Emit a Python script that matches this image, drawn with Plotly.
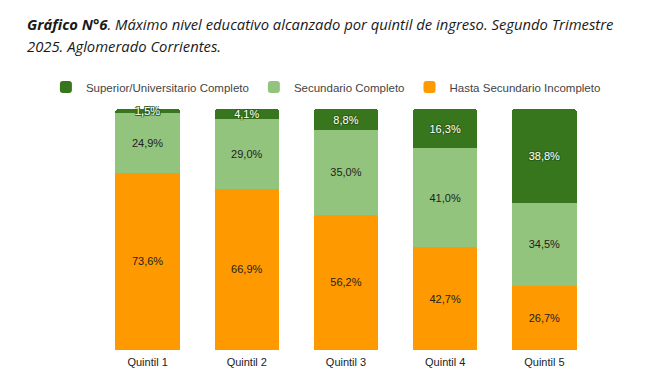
import plotly.graph_objects as go

categories = ["Quintil 1", "Quintil 2", "Quintil 3", "Quintil 4", "Quintil 5"]
hasta_sec_incompleto = [73.6, 66.9, 56.2, 42.7, 26.7]
secundario_completo = [24.9, 29.0, 35.0, 41.0, 34.5]
superior_completo = [1.5, 4.1, 8.8, 16.3, 38.8]

def fmt(v):
    return f"{v:.1f}".replace(".", ",") + "%"

outline = ("1px 1px 0 #2d5e17, -1px -1px 0 #2d5e17, 1px -1px 0 #2d5e17, "
           "-1px 1px 0 #2d5e17")

fig = go.Figure()
fig.add_trace(go.Bar(
    name="Hasta Secundario Incompleto", x=categories, y=hasta_sec_incompleto,
    marker_color="#ff9900", text=[fmt(v) for v in hasta_sec_incompleto],
    textposition="inside", insidetextanchor="middle", textangle=0,
    textfont=dict(color="#222222", size=11, family="Liberation Sans"),
))
fig.add_trace(go.Bar(
    name="Secundario Completo", x=categories, y=secundario_completo,
    marker_color="#93c47d", text=[fmt(v) for v in secundario_completo],
    textposition="inside", insidetextanchor="middle", textangle=0,
    textfont=dict(color="#222222", size=11, family="Liberation Sans"),
))
fig.add_trace(go.Bar(
    name="Superior/Universitario Completo", x=categories, y=superior_completo,
    marker_color="#38761d", text=[fmt(v) for v in superior_completo],
    textposition="inside", insidetextanchor="middle", constraintext="none", textangle=0,
    textfont=dict(color="#ffffff", size=11, family="Liberation Sans", shadow=outline),
))

fig.update_traces(marker_line_width=0, cliponaxis=False)

fig.update_layout(
    width=651, height=380,
    barmode="stack", bargap=0.35, barcornerradius=3,
    paper_bgcolor="white", plot_bgcolor="white",
    margin=dict(l=98, r=57, t=109, b=30, autoexpand=False),
    uniformtext=dict(minsize=11, mode="show"),
    showlegend=True,
    legend=dict(orientation="h", traceorder="reversed", xref="paper",
                x=(46 - 98) / 495, xanchor="left", yref="paper", y=(350 - 87) / 241,
                yanchor="middle",
                font=dict(family="Liberation Sans", size=11.5, color="#444444"),
                itemsizing="constant"),
    xaxis=dict(showgrid=False, showline=False, ticks="", ticklabelstandoff=4,
               tickfont=dict(family="Liberation Sans", size=11, color="#222222")),
    yaxis=dict(range=[0, 100], visible=False),
    annotations=[
        dict(xref="paper", yref="paper", x=-0.1475, y=1.3527, xanchor="left", yanchor="middle",
             showarrow=False, align="left",
             text="<b><i>Gráfico N°6</i></b><i>. Máximo nivel educativo alcanzado por quintil de ingreso. Segundo Trimestre</i>",
             font=dict(family="Open Sans", size=14.8, color="#1a1a1a")),
        dict(xref="paper", yref="paper", x=-0.1475, y=1.2614, xanchor="left", yanchor="middle",
             showarrow=False, align="left",
             text="<i>2025. Aglomerado Corrientes.</i>",
             font=dict(family="Open Sans", size=14.8, color="#1a1a1a")),
    ],
)

fig.write_html("out.html", post_script="document.body.style.margin='0';",
               config={"displayModeBar": False})
